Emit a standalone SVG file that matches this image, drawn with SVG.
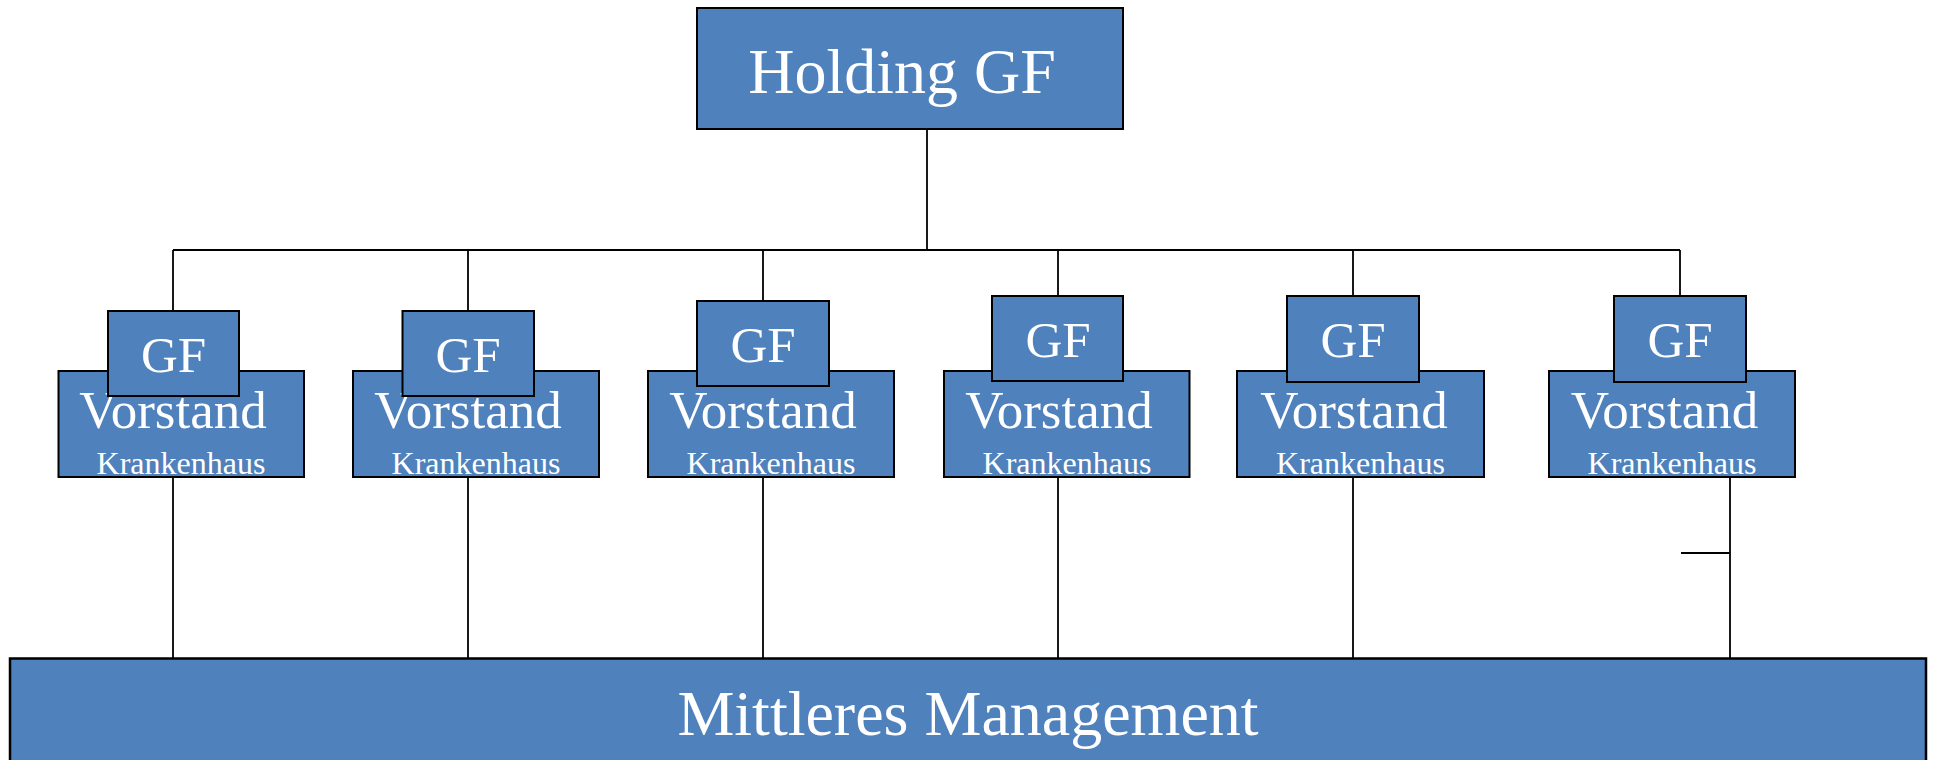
<svg xmlns="http://www.w3.org/2000/svg" width="1933" height="760" viewBox="0 0 1933 760">
<style>
.box{fill:#4F81BD;stroke:#000;stroke-width:2}
.ln{stroke:#000;stroke-width:1.8;fill:none}
text{font-family:"Liberation Serif","Times New Roman",serif;fill:#fff;text-anchor:middle}
.t1{font-size:64px}
.gf{font-size:51px}
.vs{font-size:53px}
.kh{font-size:32px}
</style>
<rect width="1933" height="760" fill="#fff"/>
<g id="connectors">
<path class="ln" d="M927 129 V250 M173 250 H1680 M173 250 V311 M468 250 V311 M763 250 V301 M1058 250 V296 M1353 250 V296 M1680 250 V296"/>
<path class="ln" d="M173 477 V658 M468 477 V658 M763 477 V658 M1058 477 V658 M1353 477 V658 M1730 477 V658 M1681 553 H1730"/>
</g>
<g id="holding">
<rect class="box" x="697" y="8" width="426" height="121"/>
<text class="t1" x="902" y="93">Holding GF</text>
</g>
<g id="col1">
<rect class="box" x="58.5" y="371" width="245.5" height="106"/>
<text class="vs" x="173" y="428">Vorstand</text>
<text class="kh" x="181" y="474">Krankenhaus</text>
<rect class="box" x="108" y="311" width="131" height="85"/>
<text class="gf" x="173.5" y="372">GF</text>
</g>
<g id="col2">
<rect class="box" x="353" y="371" width="246" height="106"/>
<text class="vs" x="468" y="428">Vorstand</text>
<text class="kh" x="476" y="474">Krankenhaus</text>
<rect class="box" x="402.5" y="311" width="131.5" height="85"/>
<text class="gf" x="468" y="372">GF</text>
</g>
<g id="col3">
<rect class="box" x="648" y="371" width="246" height="106"/>
<text class="vs" x="763" y="428">Vorstand</text>
<text class="kh" x="771" y="474">Krankenhaus</text>
<rect class="box" x="697" y="301" width="132" height="85"/>
<text class="gf" x="763" y="362">GF</text>
</g>
<g id="col4">
<rect class="box" x="944" y="371" width="245.5" height="106"/>
<text class="vs" x="1059" y="428">Vorstand</text>
<text class="kh" x="1067" y="474">Krankenhaus</text>
<rect class="box" x="992" y="296" width="131" height="85"/>
<text class="gf" x="1058" y="357">GF</text>
</g>
<g id="col5">
<rect class="box" x="1237" y="371" width="247" height="106"/>
<text class="vs" x="1354" y="428">Vorstand</text>
<text class="kh" x="1360.5" y="474">Krankenhaus</text>
<rect class="box" x="1287" y="296" width="132" height="86"/>
<text class="gf" x="1353" y="357">GF</text>
</g>
<g id="col6">
<rect class="box" x="1549" y="371" width="246" height="106"/>
<text class="vs" x="1664.5" y="428">Vorstand</text>
<text class="kh" x="1672" y="474">Krankenhaus</text>
<rect class="box" x="1614" y="296" width="132" height="86"/>
<text class="gf" x="1680" y="357">GF</text>
</g>
<g id="mittleres">
<rect class="box" x="10" y="658.5" width="1916" height="120" style="stroke-width:2.5"/>
<text class="t1" x="968" y="735">Mittleres Management</text>
</g>
</svg>
